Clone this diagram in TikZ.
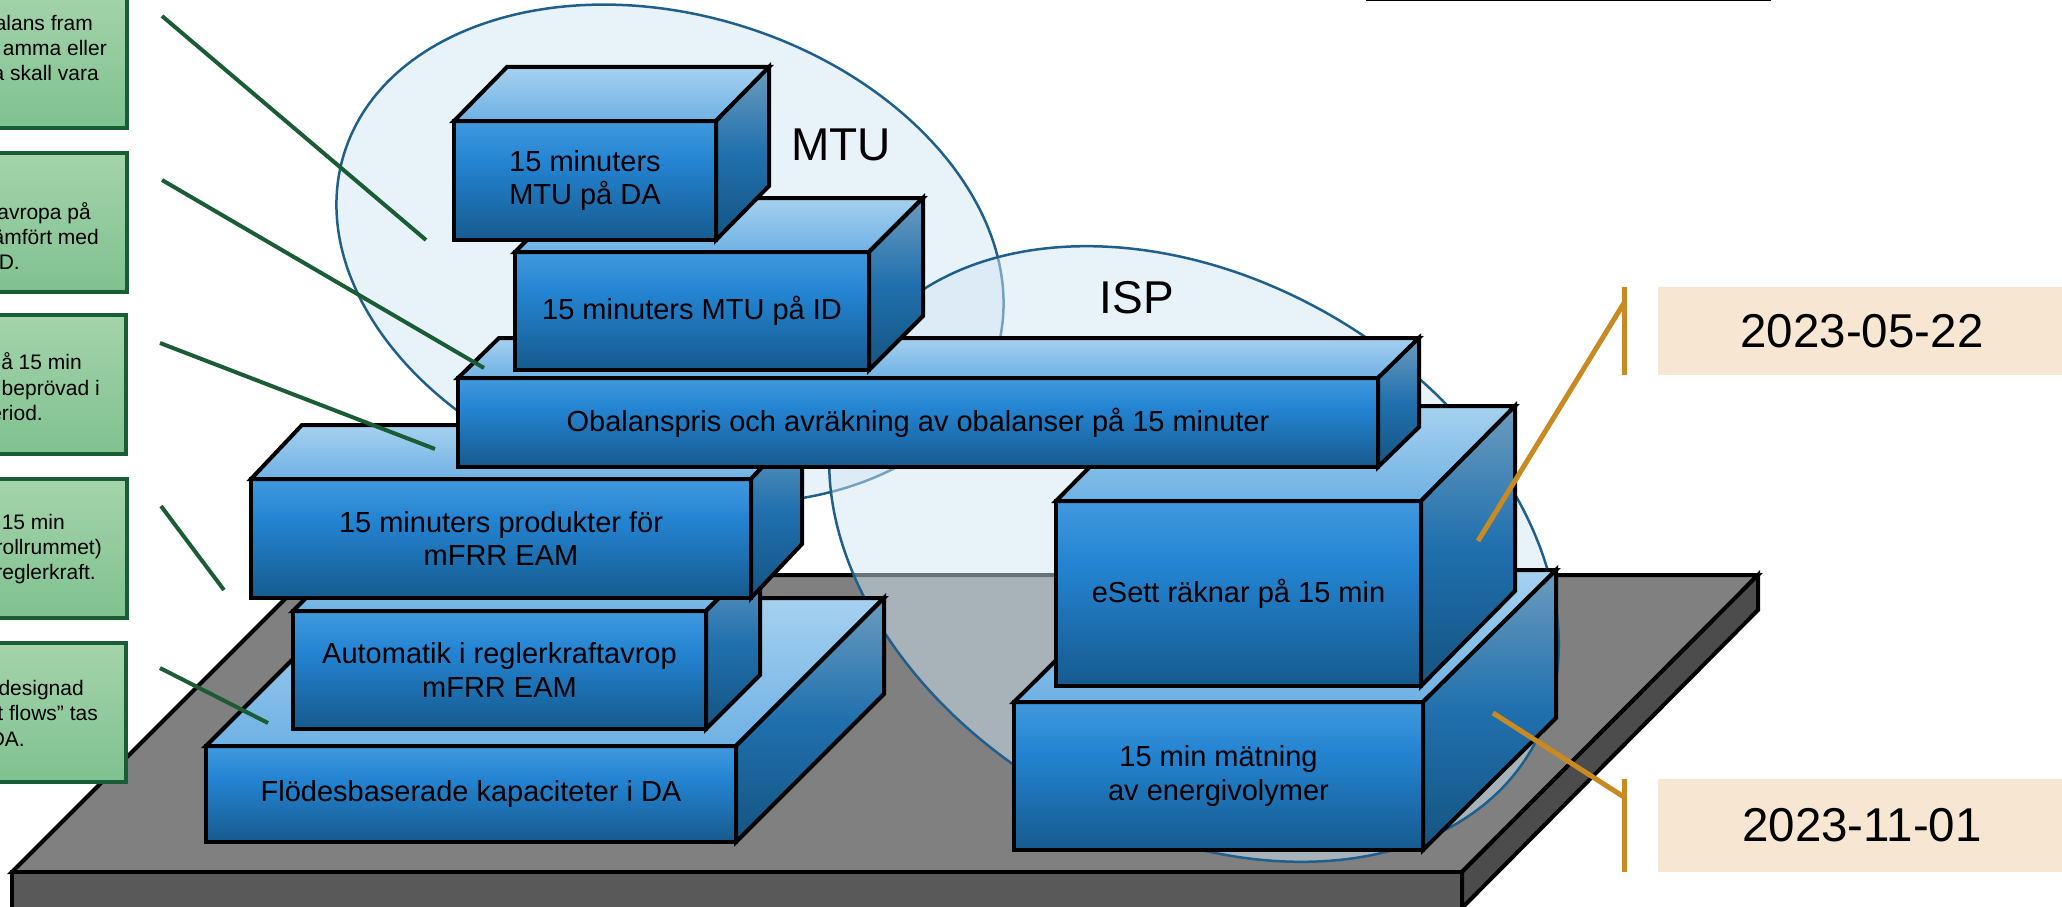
\documentclass[tikz,border=0pt]{standalone}
\usepackage{fontspec}
\usepackage{xcolor}
\setmainfont{Liberation Sans}
\usetikzlibrary{positioning}

\definecolor{frontlow}{HTML}{165A8E}
\definecolor{frontmid}{HTML}{2484D2}
\definecolor{frontup}{HTML}{4199DD}
\definecolor{toplow}{HTML}{6FB1E4}
\definecolor{topup}{HTML}{A6D1EF}
\definecolor{sidelow}{HTML}{155482}
\definecolor{sidemid}{HTML}{2070AE}
\definecolor{sideup}{HTML}{6C9CBE}
\definecolor{notelow}{HTML}{80C190}
\definecolor{noteup}{HTML}{A4D4AA}
\definecolor{notedark}{HTML}{1A5C34}
\definecolor{datefill}{HTML}{F6E6D2}
\definecolor{dateline}{HTML}{C98A22}
\definecolor{bubblefill}{HTML}{D0E5F3}
\definecolor{bubbleline}{HTML}{1F5F8C}

\pgfdeclareverticalshading{boxfront}{100bp}{color(0bp)=(frontlow); color(25bp)=(frontlow); color(58bp)=(frontmid); color(75bp)=(frontup); color(100bp)=(frontup)}
\pgfdeclareverticalshading{boxtop}{100bp}{color(0bp)=(toplow); color(25bp)=(toplow); color(75bp)=(topup); color(100bp)=(topup)}
\pgfdeclareverticalshading{boxside}{100bp}{color(0bp)=(sidelow); color(25bp)=(sidelow); color(50bp)=(sidemid); color(75bp)=(sideup); color(100bp)=(sideup)}

\tikzset{
    edgeline/.style={draw=black, line width=4pt},
    frontface/.style={edgeline, shade, shading=boxfront, align=center, outer sep=0pt, inner sep=0pt, font=\fontsize{29}{33.4}\selectfont},
    topface/.style={edgeline, shade, shading=boxtop},
    sideface/.style={edgeline, shade, shading=boxside},
    notebox/.style={draw=notedark, line width=4pt, top color=noteup, bottom color=notelow, outer sep=0pt},
    notetext/.style={anchor=east, align=right, inner sep=0pt, font=\fontsize{21}{25.4}\selectfont},
    noteline/.style={draw=notedark, line width=4pt},
    datebox/.style={fill=datefill, minimum width=408pt, outer sep=0pt, font=\fontsize{47.5}{54}\selectfont},
    dateline/.style={draw=dateline, line width=5pt},
    bubble/.style={draw=bubbleline, line width=2.5pt, fill=bubblefill, fill opacity=0.5},
    bubbletext/.style={font=\fontsize{46}{52}\selectfont}
}

% name, centre x, centre y, width, height, depth x, depth y, text
\newcommand{\stackbox}[8]{
    \node[frontface, minimum width=#4pt, minimum height=#5pt] (#1) at (#2,#3) {#8};
    \draw[topface] (#1.north west) -- ++(#6,-#7) -- ++(#4,0) -- (#1.north east) -- cycle;
    \draw[sideface] (#1.north east) -- ++(#6,-#7) -- ++(0,#5) -- (#1.south east) -- cycle;
}

\begin{document}
\begin{tikzpicture}[x=1pt, y=-1pt]
\useasboundingbox (0,0) rectangle (2062,907);

% Base plate
\draw[edgeline, fill=black!50] (12,872) -- (309,575) -- (1758,575) -- (1462,872) -- cycle;
\draw[edgeline, fill=black!65] (12,872) rectangle (1462,925);
\draw[edgeline, fill=black!70] (1462,872) -- (1758,575) -- (1758,610) -- (1462,908) -- cycle;

% Frame cut off at the top
\node[draw=black, line width=2.5pt, minimum width=403pt, minimum height=40pt] (topframe) at (1568.5,-20) {};

% MTU and ISP
\draw[bubble, rotate around={-17:(670,254)}] (670,254) ellipse (341 and 239);
\draw[bubble, rotate around={-30:(1194,554)}] (1194,554) ellipse (390 and 275);
\node[bubbletext] (mtulabel) at (841,145) {MTU};
\node[bubbletext] (isplabel) at (1137,298) {ISP};

% Stacks, left
\stackbox{flow}{471}{794}{530}{96}{148}{148}{Flödesbaserade kapaciteter i DA}
\stackbox{auto}{499.5}{670}{413}{118}{54}{54}{Automatik i reglerkraftavrop\\mFRR EAM}
\stackbox{mfrr}{501}{538.5}{500}{119}{51}{54}{15 minuters produkter för\\mFRR EAM}

% Stacks, right
\stackbox{metering}{1218.5}{776}{409}{148}{133}{132}{15 min mätning\\av energivolymer}
\stackbox{esett}{1238.5}{593.5}{365}{185}{94}{95}{eSett räknar på 15 min}

% Stacks, middle
\stackbox{imbalance}{918}{422.5}{920}{89}{41}{40}{Obalanspris och avräkning av obalanser på 15 minuter}
\stackbox{mtuid}{692}{311}{354}{118}{54}{54}{15 minuters MTU på ID}
\stackbox{mtuda}{585}{180.5}{262}{119}{53}{54}{15 minuters\\MTU på DA}

% Notes on the left, cut off by the page
\node[notebox, minimum width=300pt, minimum height=139pt] (noteA) at (-23,58.5) {};
\node[notebox, minimum width=300pt, minimum height=139pt] (noteB) at (-23,222) {};
\node[notebox, minimum width=300pt, minimum height=139pt] (noteC) at (-24,384.5) {};
\node[notebox, minimum width=300pt, minimum height=139pt] (noteD) at (-23,548.5) {};
\node[notebox, minimum width=300pt, minimum height=139pt] (noteE) at (-24,712) {};
\node[notetext] (textA) at (107,48) {alans fram\hspace*{14pt}\\amma eller\\a skall vara\hspace*{8pt}};
\node[notetext] (textB) at (99,236) {avropa på\hspace*{8pt}\\ämfört med\\D.\hspace*{79pt}};
\node[notetext] (textC) at (100,387) {å 15 min\hspace*{18pt}\\beprövad i\\eriod.\hspace*{57pt}};
\node[notetext] (textD) at (102,549) {15 min\hspace*{37pt}\\rollrummet)\\reglerkraft.\hspace*{6pt}};
\node[notetext] (textE) at (98,713) {designad\hspace*{14pt}\\t flows” tas\\DA.\hspace*{73pt}};

% Dates
\node[datebox, minimum height=88pt] (dateA) at (1862,331) {2023-05-22};
\node[datebox, minimum height=93pt] (dateB) at (1862,825.5) {2023-11-01};

% Note pointers
\coordinate (ptrAa) at (162,16);
\coordinate (ptrAb) at (426,240);
\coordinate (ptrBa) at (162,180);
\coordinate (ptrBb) at (484,368);
\coordinate (ptrCa) at (160,343);
\coordinate (ptrCb) at (435,449);
\coordinate (ptrDa) at (161,506);
\coordinate (ptrDb) at (224,590);
\coordinate (ptrEa) at (160,668);
\coordinate (ptrEb) at (268,723);
\draw[noteline] (ptrAa) -- (ptrAb);
\draw[noteline] (ptrBa) -- (ptrBb);
\draw[noteline] (ptrCa) -- (ptrCb);
\draw[noteline] (ptrDa) -- (ptrDb);
\draw[noteline] (ptrEa) -- (ptrEb);

% Date brackets
\coordinate (tickAa) at (1624,287);
\coordinate (tickAb) at (1624,375);
\coordinate (tickAm) at (1624,303);
\coordinate (tickAe) at (1478,541);
\coordinate (tickBa) at (1624,779);
\coordinate (tickBb) at (1624,872);
\coordinate (tickBm) at (1624,797);
\coordinate (tickBe) at (1493,713);
\draw[dateline] (tickAa) -- (tickAb);
\draw[dateline] (tickAm) -- (tickAe);
\draw[dateline] (tickBa) -- (tickBb);
\draw[dateline] (tickBm) -- (tickBe);

\end{tikzpicture}
\end{document}
